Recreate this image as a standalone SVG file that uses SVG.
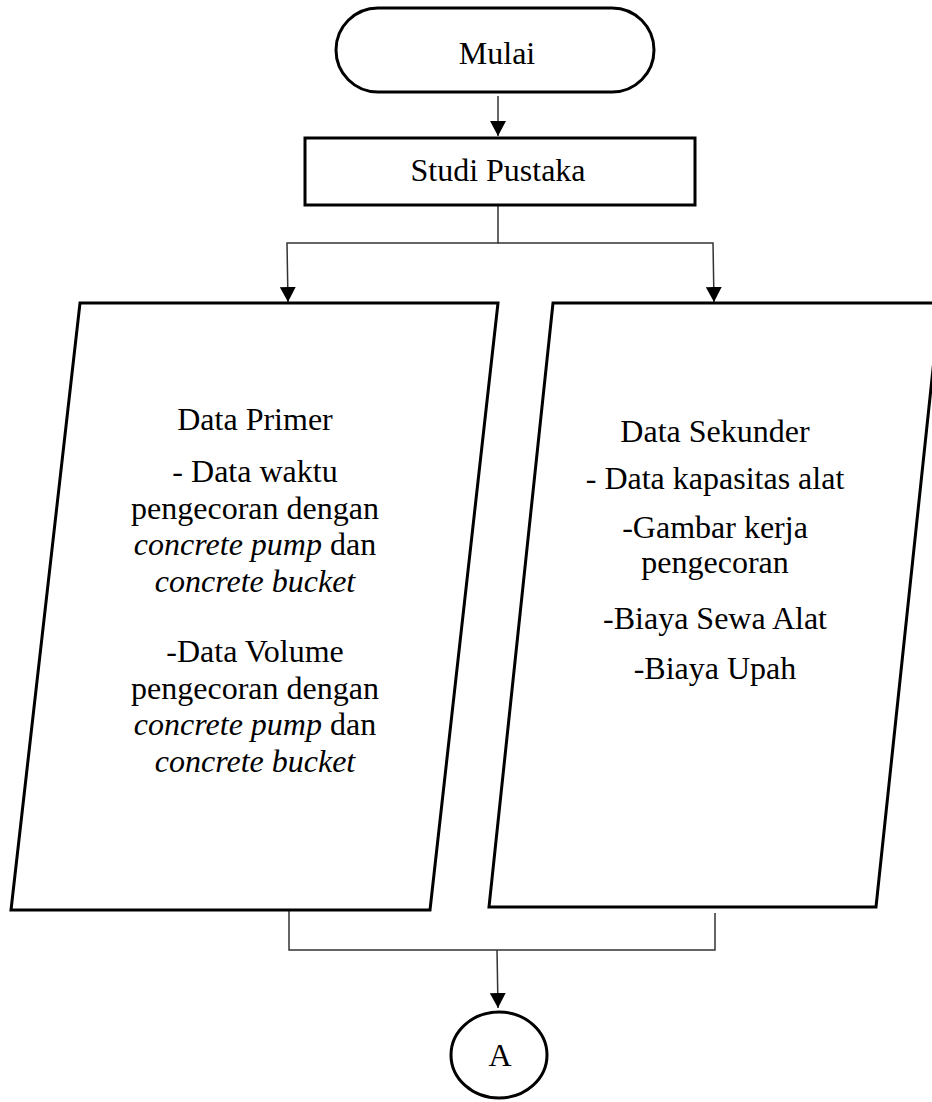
<svg xmlns="http://www.w3.org/2000/svg" width="932" height="1102" viewBox="0 0 932 1102">
<style>
.shape{fill:#fff;stroke:#000;stroke-width:3}
.conn{fill:none;stroke:#333;stroke-width:1.5}
text{font-family:"Liberation Serif","Times New Roman",serif;font-size:32px;fill:#000;text-anchor:middle}
.it{font-style:italic}
</style>
<defs>
<marker id="arr" markerUnits="userSpaceOnUse" markerWidth="16" markerHeight="16" refX="15" refY="8" orient="auto">
<path d="M0,0 L15,8 L0,16 z" fill="#000"/>
</marker>
</defs>
<rect width="932" height="1102" fill="#fff"/>
<g id="connectors">
<line class="conn" x1="498" y1="96" x2="498" y2="136" marker-end="url(#arr)"/>
<polyline class="conn" points="498,205 498,243 287,243 288,302" marker-end="url(#arr)"/>
<polyline class="conn" points="498,243 713,243 714,302" marker-end="url(#arr)"/>
<polyline class="conn" points="289,911 289,950 715,950 715,913"/>
<line class="conn" x1="497" y1="950" x2="498" y2="1008" marker-end="url(#arr)"/>
</g>
<g id="mulai">
<rect class="shape" x="336" y="8" width="318" height="84" rx="42" ry="42"/>
<text x="497" y="64">Mulai</text>
</g>
<g id="studi-pustaka">
<rect class="shape" x="305" y="138" width="390" height="67"/>
<text x="498" y="181">Studi Pustaka</text>
</g>
<g id="data-primer">
<polygon class="shape" points="80,303 498,303 430,910 11,910"/>
<text x="255" y="430">Data Primer</text>
<text x="255" y="482">- Data waktu</text>
<text x="255" y="519">pengecoran dengan</text>
<text x="255" y="555"><tspan class="it">concrete pump</tspan> dan</text>
<text x="255" y="592" class="it">concrete bucket</text>
<text x="255" y="662">-Data Volume</text>
<text x="255" y="699">pengecoran dengan</text>
<text x="255" y="735"><tspan class="it">concrete pump</tspan> dan</text>
<text x="255" y="772" class="it">concrete bucket</text>
</g>
<g id="data-sekunder">
<polygon class="shape" points="553,303 940,303 876,907 489,907"/>
<text x="715" y="442">Data Sekunder</text>
<text x="715" y="489">- Data kapasitas alat</text>
<text x="715" y="538">-Gambar kerja</text>
<text x="715" y="573">pengecoran</text>
<text x="715" y="629">-Biaya Sewa Alat</text>
<text x="715" y="679">-Biaya Upah</text>
</g>
<g id="connector-a">
<ellipse class="shape" cx="499" cy="1055" rx="48" ry="43"/>
<text x="500" y="1066">A</text>
</g>
</svg>
